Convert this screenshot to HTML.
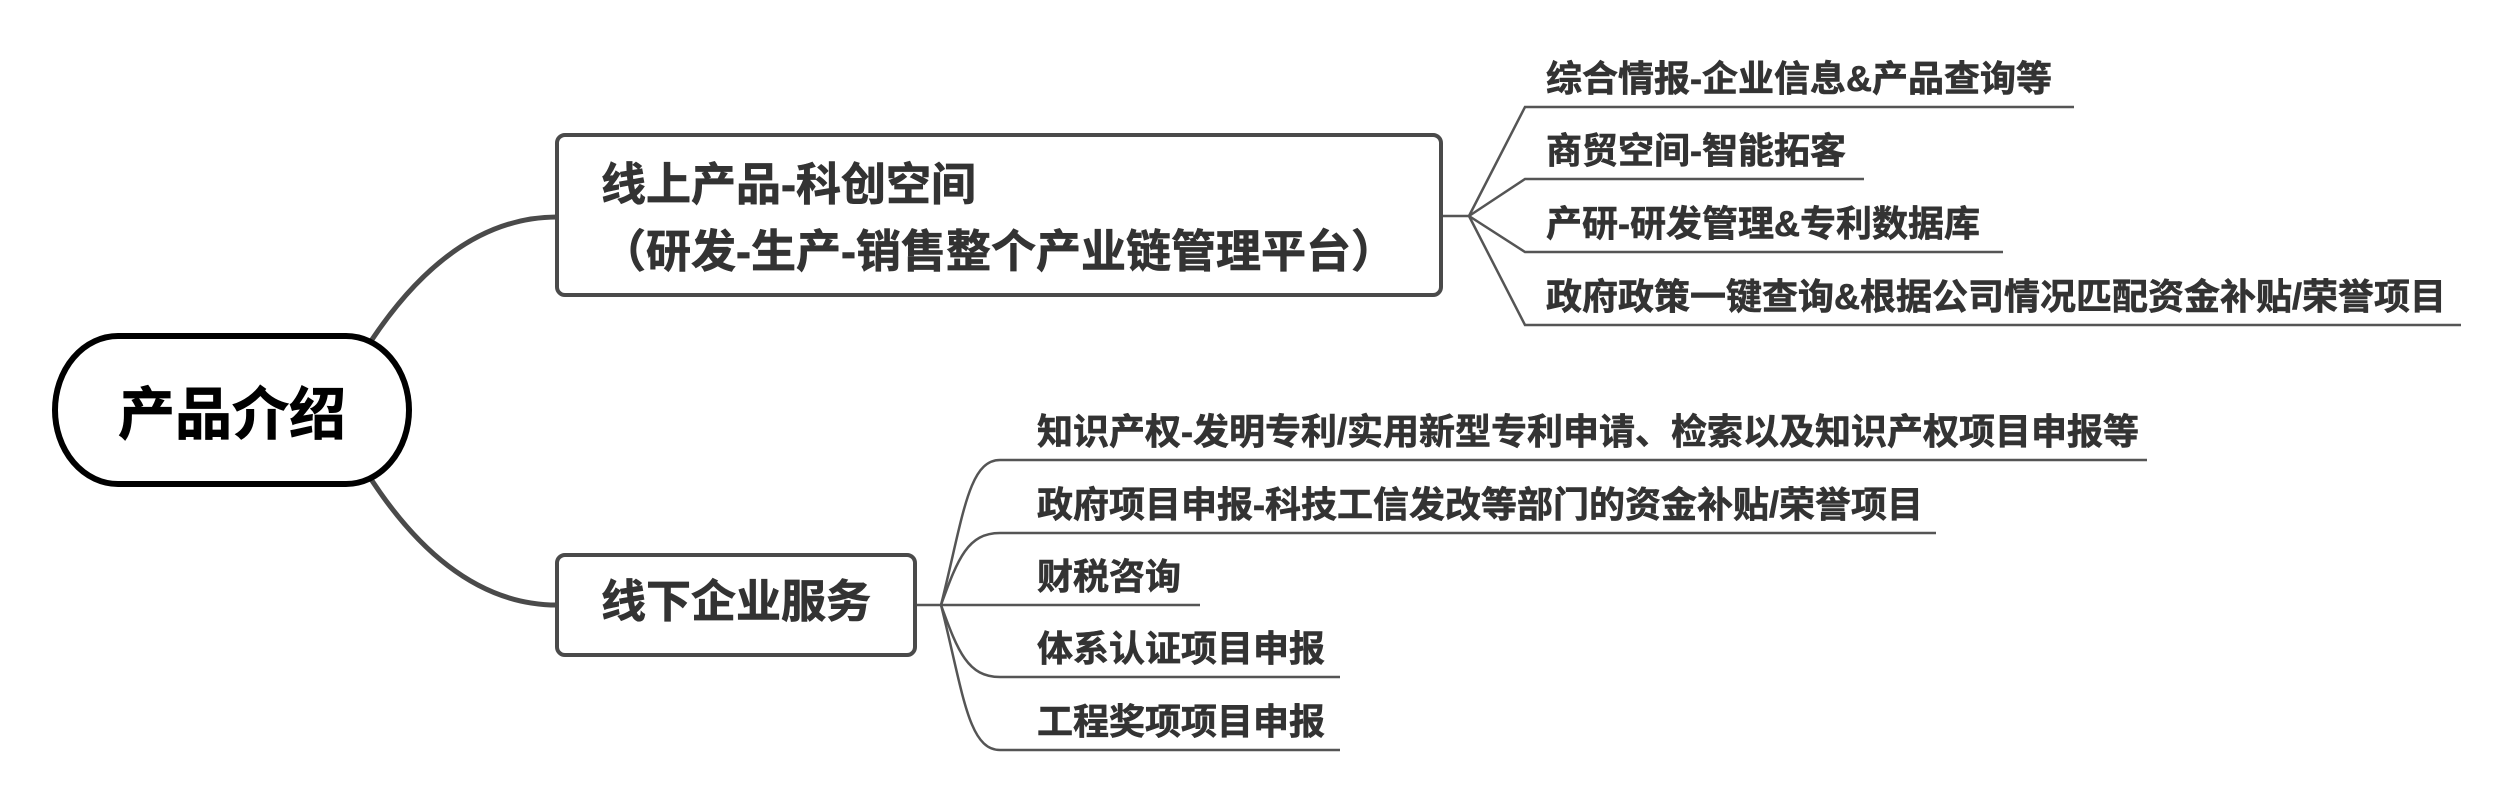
<!DOCTYPE html>
<html>
<head>
<meta charset="utf-8">
<style>
  html, body { margin: 0; padding: 0; background: #ffffff; }
  body { width: 2511px; height: 800px; overflow: hidden; }
  svg { display: block; }
  text { font-family: "Liberation Sans", "Noto Sans CJK SC", "WenQuanYi Zen Hei", sans-serif; font-weight: bold; }
</style>
</head>
<body>
<svg width="2511" height="800" viewBox="0 0 2511 800" xmlns="http://www.w3.org/2000/svg">
  <rect x="0" y="0" width="2511" height="800" fill="#ffffff"/>

  <!-- main connectors -->
  <path d="M362,355 Q448,217 557,217" fill="none" stroke="#4a4a4a" stroke-width="5"/>
  <path d="M362,465 Q448,605 557,605" fill="none" stroke="#4a4a4a" stroke-width="5"/>

  <!-- root node -->
  <rect x="55" y="336" width="354" height="148" rx="63" ry="74" fill="#ffffff" stroke="#000000" stroke-width="6"/>
  <text x="232" y="434" font-size="57" fill="#000000" stroke="#000000" stroke-width="0.8" text-anchor="middle">产品介绍</text>

  <!-- top node -->
  <rect x="557" y="135" width="884" height="160" rx="8" ry="8" fill="#ffffff" stroke="#4a4a4a" stroke-width="4"/>
  <g font-size="45" fill="#333333" stroke="#333333" stroke-width="0.7">
    <text x="601" y="200">线上产品-科创空间</text>
    <text x="601" y="267">（研发-生产-销售整个产业链管理平台）</text>
  </g>

  <!-- bottom node -->
  <rect x="557" y="555" width="358" height="100" rx="8" ry="8" fill="#ffffff" stroke="#4a4a4a" stroke-width="4"/>
  <text x="601" y="617" font-size="45" fill="#333333" stroke="#333333" stroke-width="0.7">线下企业服务</text>

  <!-- top fan -->
  <g fill="none" stroke="#555555" stroke-width="2.5">
    <line x1="1443" y1="216" x2="1469" y2="216"/>
    <polyline points="1469,216 1525,107 2074,107"/>
    <polyline points="1469,216 1525,179 1864,179"/>
    <polyline points="1469,216 1525,252 2003,252"/>
    <polyline points="1469,216 1525,325 2461,325"/>
  </g>
  <g font-size="36" fill="#333333" stroke="#333333" stroke-width="0.6">
    <text x="1546" y="91">综合情报-企业信息&amp;产品查询等</text>
    <text x="1546" y="163">商贸空间-智能拓客</text>
    <text x="1546" y="236">产研-研发管理&amp;专利数据库</text>
    <text x="1546" y="309">政府政策一键查询&amp;根据公司情况匹配资金补贴/荣誉项目</text>
  </g>

  <!-- bottom fan -->
  <g fill="none" stroke="#555555" stroke-width="2.5">
    <line x1="917" y1="605" x2="941" y2="605"/>
    <path d="M941,605 C963,518 968,460 1000,460 L2147,460"/>
    <path d="M941,605 C958,558 968,533 1000,533 L1936,533"/>
    <line x1="941" y1="605" x2="1200" y2="605"/>
    <path d="M941,605 C958,652 968,677 1000,677 L1340,677"/>
    <path d="M941,605 C963,692 968,750 1000,750 L1340,750"/>
  </g>
  <g font-size="36" fill="#333333" stroke="#333333" stroke-width="0.6">
    <text x="1037" y="444">知识产权-发明专利/实用新型专利申请、检索以及知识产权项目申报等</text>
    <text x="1037" y="517">政府项目申报-科技工信发改等部门的资金补贴/荣誉项目</text>
    <text x="1037" y="589">财税咨询</text>
    <text x="1037" y="661">体系认证项目申报</text>
    <text x="1037" y="734">工程奖项项目申报</text>
  </g>
</svg>
</body>
</html>
